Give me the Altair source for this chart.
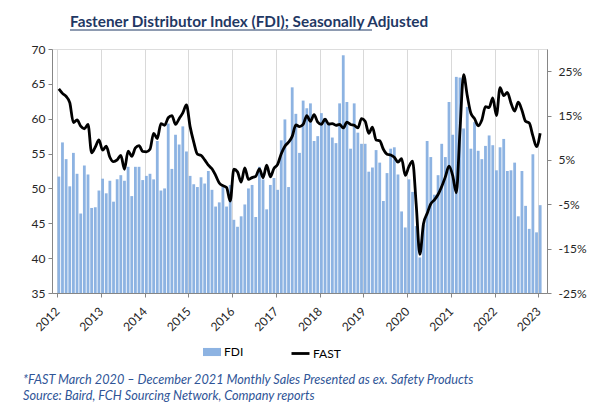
import altair as alt
import pandas as pd

YEARS = list(range(2012, 2024))

FDI = [
    51.7, 56.6, 54.2, 50.3, 55.1, 52.1, 46.4, 53.3, 52.0, 47.2, 47.3, 49.7,
    51.4, 49.3, 51.1, 48.1, 51.3, 51.9, 51.1, 53.1, 48.9, 53.1, 53.1, 51.2,
    51.8, 52.1, 51.3, 56.8, 49.7, 50.0, 59.3, 52.8, 57.7, 56.3, 58.9, 55.3,
    51.8, 50.6, 50.2, 51.6, 50.7, 52.5, 49.8, 47.4, 48.0, 50.2, 47.4, 50.5,
    45.5, 44.5, 46.0, 47.7, 50.0, 50.5, 45.9, 53.1, 51.3, 47.0, 50.5, 51.5,
    49.8, 56.9, 59.9, 50.2, 64.5, 60.7, 55.1, 62.6, 61.5, 62.2, 56.8, 57.5,
    60.8, 60.1, 59.1, 57.3, 56.5, 62.2, 69.1, 62.4, 55.7, 62.2, 58.0, 56.4,
    56.4, 52.4, 53.0, 55.5, 53.7, 48.2, 52.2, 55.7, 55.9, 52.0, 46.7, 44.4,
    51.3, 49.5, 44.6, 40.1, 44.8, 56.8, 54.5, 49.1, 51.9, 56.4, 54.5, 62.4,
    57.7, 66.0, 65.9, 58.6, 61.7, 55.7, 59.5, 55.4, 54.2, 56.1, 57.6, 56.2,
    52.6, 55.9, 57.1, 52.5, 52.6, 53.7, 46.0, 52.5, 47.5, 44.2, 54.9, 43.7,
    47.6,
]

FAST = [
    21.0, 20.0, 19.3, 17.9, 13.4, 14.0, 12.6, 12.0, 13.0, 6.6, 7.9, 9.5,
    7.2, 8.1, 5.6, 4.6, 5.0, 6.0, 2.9, 7.0, 5.8, 7.7, 8.2, 6.9,
    6.8, 7.4, 11.0, 9.8, 13.2, 12.8, 14.5, 15.0, 13.0, 14.3, 15.6, 17.4,
    12.5, 9.0, 6.3, 6.0, 5.0, 3.8, 3.0, 1.5, -0.2, -0.8, -1.2, -4.3,
    2.9, 2.3, 0.0, 3.2, 0.6, 1.0, 1.3, 3.0, 1.0, 3.8, 1.2, 3.1,
    4.0, 6.4, 8.1, 9.0, 10.3, 12.9, 12.5, 13.0, 15.0, 13.7, 15.2, 13.5,
    13.0, 14.2, 13.1, 13.2, 12.8, 13.0, 12.2, 13.5, 13.0, 12.8, 12.2, 14.3,
    13.7, 11.0, 12.4, 9.5, 9.3, 7.4, 6.3, 6.1, 5.6, 4.5, 5.3, 1.5,
    3.5, 4.7, -5.0, -16.3, -9.4, -7.1, -4.9, -4.0, -2.8, -1.0, 1.2, 3.6,
    1.5, -2.4, 11.5, 24.2, 19.5, 15.5, 14.3, 12.7, 14.0, 17.0, 16.8, 19.0,
    15.0, 21.3, 19.5, 20.2, 17.8, 16.0, 18.0, 16.2, 13.7, 13.3, 10.4, 8.0,
    11.0,
]

LEFT_TICKS = [35, 40, 45, 50, 55, 60, 65, 70]
RIGHT_TICKS = [-25, -15, -5, 5, 15, 25]
TITLE = "Fastener Distributor Index (FDI); Seasonally Adjusted"
NOTE1 = "*FAST March 2020 \u2013 December 2021 Monthly Sales Presented as ex. Safety Products"
NOTE2 = "Source: Baird, FCH Sourcing Network, Company reports"

n = len(FDI)
df = pd.DataFrame({
    "t": [YEARS[0] + (i + 0.5) / 12 for i in range(n)],
    "FDI": FDI,
    "FAST": FAST,
})

FONT = "Lato"
AX_COL = "#868686"
LBL_COL = "#262626"
TITLE_COL = "#1F3864"
NOTE_COL = "#2F5597"

xscale = alt.Scale(domain=[YEARS[0], YEARS[0] + n / 12], nice=False, zero=False)
xaxis = alt.Axis(values=YEARS, format="d", labelAngle=-45, labelAlign="right",
                 labelBaseline="middle", labelPadding=12,
                 grid=True, gridColor="#D9D9D9", gridWidth=1,
                 domainColor=AX_COL, tickColor=AX_COL, tickSize=4,
                 labelFontSize=12, labelColor=LBL_COL, labelFont=FONT, title=None)

left_axis = alt.Axis(values=LEFT_TICKS, orient="left", grid=False,
                     domainColor=AX_COL, tickColor=AX_COL, tickSize=4,
                     labelPadding=3, labelFontSize=12, labelColor=LBL_COL,
                     labelFont=FONT, title=None)

right_axis = alt.Axis(values=RIGHT_TICKS, orient="right", grid=False,
                      domainColor=AX_COL, tickColor=AX_COL, tickSize=4,
                      labelPadding=7, labelFontSize=12, labelColor=LBL_COL,
                      labelFont=FONT, labelExpr="datum.value + '%'", title=None)

bars = alt.Chart(df).transform_calculate(series="'FDI'").mark_bar(size=2.8).encode(
    x=alt.X("t:Q", scale=xscale, axis=xaxis),
    y=alt.Y("FDI:Q", scale=alt.Scale(domain=[35, 70], nice=False, zero=False), axis=left_axis),
    y2=alt.datum(35),
    fill=alt.Fill("series:N", scale=alt.Scale(domain=["FDI"], range=["#8DB3E2"]),
                  legend=alt.Legend(orient="none", legendX=151, legendY=294, title=None,
                                    symbolType="M-1,-0.45H1V0.45H-1Z", symbolSize=324,
                                    symbolStrokeWidth=0, labelOffset=3, padding=0,
                                    labelFontSize=12, labelFont=FONT, labelColor="#000000")),
)

line = alt.Chart(df).transform_calculate(series="'FAST'").mark_line(
    strokeWidth=2.8, interpolate="monotone").encode(
    x=alt.X("t:Q", scale=xscale, axis=xaxis),
    y=alt.Y("FAST:Q", scale=alt.Scale(domain=[-25, 30], nice=False, zero=False), axis=right_axis),
    stroke=alt.Stroke("series:N", scale=alt.Scale(domain=["FAST"], range=["#000000"]),
                      legend=alt.Legend(orient="none", legendX=238, legendY=294, title=None,
                                        symbolType="stroke", symbolSize=324,
                                        symbolStrokeWidth=2.8, labelOffset=2, padding=0,
                                        labelFontSize=12, labelFont=FONT, labelColor="#000000")),
)

title_txt = alt.Chart(pd.DataFrame({"s": [TITLE]})).mark_text(
    align="left", baseline="alphabetic", font=FONT, fontSize=15.3, fontWeight="bold",
    color=TITLE_COL).encode(text="s:N", x=alt.value(18), y=alt.value(-22))

underline = alt.Chart(pd.DataFrame({"s": [TITLE]})).mark_rule(
    color=TITLE_COL, strokeWidth=1).encode(x=alt.value(18), x2=alt.value(320), y=alt.value(-19))

note1 = alt.Chart(pd.DataFrame({"s": [NOTE1]})).mark_text(
    align="left", baseline="middle", font=FONT, fontSize=12.7, fontStyle="italic",
    color=NOTE_COL).encode(text="s:N", x=alt.value(-29), y=alt.value(331))

note2 = alt.Chart(pd.DataFrame({"s": [NOTE2]})).mark_text(
    align="left", baseline="middle", font=FONT, fontSize=12.7, fontStyle="italic",
    color=NOTE_COL).encode(text="s:N", x=alt.value(-29), y=alt.value(347))

chart = alt.layer(bars, line, title_txt, underline, note1, note2).resolve_scale(
    y="independent"
).properties(
    width=495, height=244,
    autosize=alt.AutoSizeParams(type="none"),
    padding={"left": 44, "top": 41, "right": 44, "bottom": 110},
).configure_view(strokeWidth=0).configure(font=FONT)

chart.save("out.html", embed_options={"renderer": "svg", "actions": False})
